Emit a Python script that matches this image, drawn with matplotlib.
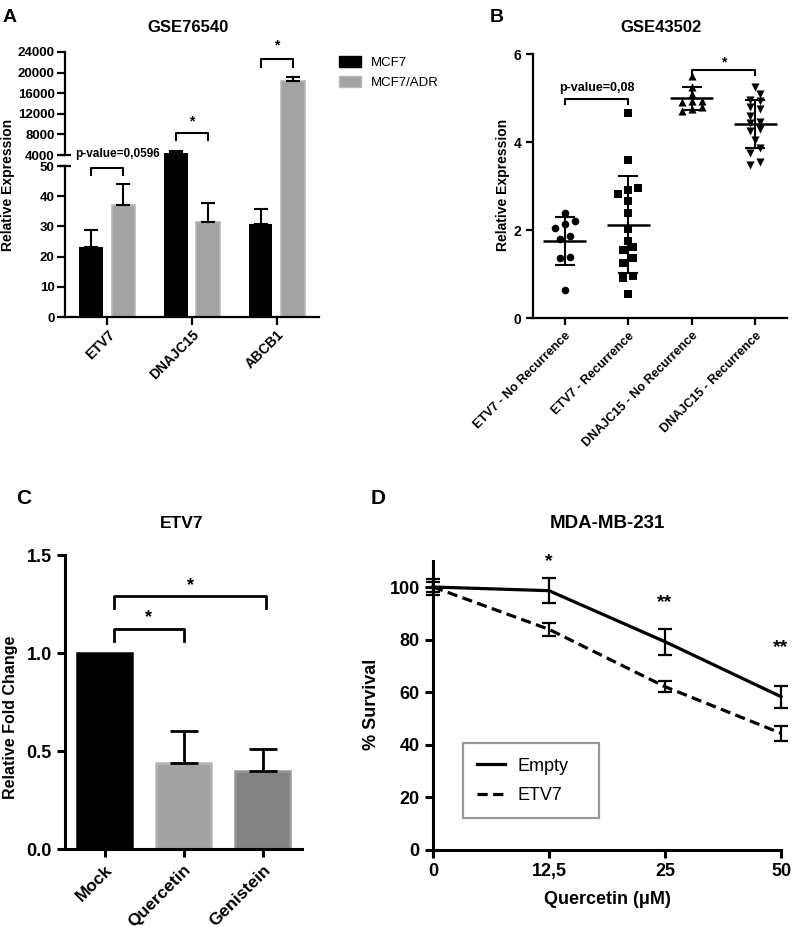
import numpy as np
import matplotlib
matplotlib.use("Agg")
import matplotlib.pyplot as plt
from matplotlib.patches import Patch
from matplotlib.lines import Line2D

plt.rcParams["font.family"] = ["Liberation Sans", "DejaVu Sans"]
plt.rcParams["font.weight"] = "bold"
plt.rcParams["axes.labelweight"] = "bold"

# ── DATA ──────────────────────────────────────────────────────────────────────
# A: GSE76540 (mean, upper SEM)
genes_a   = ["ETV7", "DNAJC15", "ABCB1"]
mcf7_mean = [23.3, 4450, 30.9]
mcf7_err  = [5.6, 330, 4.8]
adr_mean  = [37.0, 31.6, 18370]
adr_err   = [7.1, 6.3, 720]

# B: GSE43502 (individual samples)
groups_b = ["ETV7 - No Recurrence", "ETV7 - Recurrence",
            "DNAJC15 - No Recurrence", "DNAJC15 - Recurrence"]
etv7_norec = [2.38, 2.14, 2.20, 2.05, 1.80, 1.87, 1.39, 1.36, 0.64]
etv7_rec   = [4.67, 3.58, 2.95, 2.91, 2.66, 2.82, 2.38, 2.02, 1.62, 1.76,
              1.55, 1.36, 1.24, 0.95, 0.92, 0.55]
dnajc_norec = [5.50, 5.26, 5.10, 4.94, 4.92, 4.94, 4.79, 4.71, 4.75]
dnajc_rec   = [5.24, 5.08, 4.95, 4.94, 4.75, 4.79, 4.60, 4.30, 4.46, 4.44,
               4.25, 4.05, 3.86, 3.74, 3.55, 3.48]

# C: ETV7 fold change
treat_c  = ["Mock", "Quercetin", "Genistein"]
fold_c   = [1.0, 0.44, 0.40]
fold_err = [0.0, 0.16, 0.11]

# D: MDA-MB-231 survival
dose_labels = ["0", "12,5", "25", "50"]
empty_surv  = [100, 98.6, 79.2, 58.3]
empty_err   = [3.0, 4.7, 5.0, 4.2]
etv7_surv   = [100, 83.9, 62.1, 44.4]
etv7_err    = [2.0, 2.6, 2.2, 2.9]

# ── HELPERS ───────────────────────────────────────────────────────────────────
W, H = 799, 932
fig = plt.figure(figsize=(W / 100, H / 100), dpi=100)


def px_axes(left, top, right, bottom):
    return fig.add_axes([left / W, 1 - bottom / H, (right - left) / W, (bottom - top) / H])


def px_text(x, y, s, **kw):
    kw.setdefault("ha", "center")
    kw.setdefault("va", "center")
    fig.text(x / W, 1 - y / H, s, **kw)


def style(ax, lw, tlen):
    ax.spines[["top", "right"]].set_visible(False)
    for s in ("left", "bottom"):
        ax.spines[s].set_linewidth(lw)
    ax.tick_params(width=lw, length=tlen, direction="out")


def bracket(ax, x0, x1, y, tip, text, ty, fs, lw=1.5, tx=None):
    ax.plot([x0, x0, x1, x1], [tip, y, y, tip], color="black", lw=lw, clip_on=False)
    tx = (x0 + x1) / 2 if tx is None else tx
    ax.text(tx, ty, text, ha="center", va="center", fontsize=fs, clip_on=False)


def swarm(vals, step=0.16, tol=0.15):
    vals = np.asarray(vals)
    offs = np.zeros(len(vals))
    order = np.argsort(vals)

    def place(idx):
        for k, j in enumerate(idx):
            offs[j] = (k - (len(idx) - 1) / 2) * step

    cluster = [order[0]]
    for j in order[1:]:
        if vals[j] - vals[cluster[0]] <= tol + 1e-9:
            cluster.append(j)
        else:
            place(cluster)
            cluster = [j]
    place(cluster)
    return offs


# ── PANEL A ───────────────────────────────────────────────────────────────────
xa = np.arange(len(genes_a))
off, bw = 0.19, 0.28
gray_a = "#a3a3a3"
lo = px_axes(65, 155, 319, 317)
hi = px_axes(65, 52, 319, 155)
for ax in (lo, hi):
    ax.bar(xa - off, mcf7_mean, bw, color="black")
    ax.bar(xa + off, adr_mean, bw, color=gray_a, edgecolor="#b8b8b8", linewidth=1.2)
    ax.errorbar(xa - off, mcf7_mean, yerr=[np.zeros(3), mcf7_err], fmt="none",
                ecolor="black", elinewidth=1.5, capsize=5, capthick=1.5)
    ax.errorbar(xa + off, adr_mean, yerr=[np.zeros(3), adr_err], fmt="none",
                ecolor="black", elinewidth=1.5, capsize=5, capthick=1.5)
    ax.set_xlim(-0.5, 2.5)
    style(ax, 1.6, 5.5)
    ax.tick_params(labelsize=9.5, pad=2)

lo.set_ylim(0, 50 * (317 - 155) / (317 - 166))
lo.spines["left"].set_bounds(0, 50)
lo.set_yticks(range(0, 51, 10))
lo.set_xticks(xa)
lo.set_xticklabels(genes_a, rotation=45, ha="right", rotation_mode="anchor", fontsize=10)
lo.plot([-0.5], [50], marker="_", ms=9, mew=1.6, color="black", clip_on=False)

hi.set_ylim(4000, 24000)
hi.set_yticks(range(4000, 24001, 4000))
hi.spines["bottom"].set_visible(False)
hi.set_xticks([])
hi.patch.set_alpha(0)
hi.plot([-0.5], [4000], marker="_", ms=9, mew=1.6, color="black", clip_on=False)

bracket(lo, -off, off, 49.3, 47.0, "p-value=0,0596", 54.0, 8.5, tx=0.125)
bracket(hi, 1 - off, 1 + off, 8330, 6910, "*", 10600, 10)
bracket(hi, 2 - off, 2 + off, 22580, 21150, "*", 25200, 10)

fig.legend(handles=[Patch(color="black"), Patch(facecolor=gray_a, edgecolor="#b8b8b8")],
           labels=["MCF7", "MCF7/ADR"], loc="upper left",
           bbox_to_anchor=(339 / W, 1 - 56 / H), frameon=False, borderaxespad=0,
           prop={"weight": "normal", "size": 9.5}, handlelength=1.7, handleheight=0.95,
           labelspacing=0.5, handletextpad=0.7, borderpad=0)

px_text(10, 17, "A", fontsize=14)
px_text(188, 27, "GSE76540", fontsize=12)
px_text(8, 185, "Relative Expression", rotation=90, fontsize=10)

# ── PANEL B ───────────────────────────────────────────────────────────────────
b = px_axes(533, 54, 787, 318)
markers = ["o", "s", "^", "v"]
sizes = [30, 28, 34, 34]
for i, (vals, mk, sz) in enumerate(zip([etv7_norec, etv7_rec, dnajc_norec, dnajc_rec],
                                        markers, sizes)):
    pos = i + 1
    b.scatter(pos + swarm(vals), vals, marker=mk, s=sz, color="black", linewidths=0, zorder=3)
    m, sd = np.mean(vals), np.std(vals, ddof=1)
    b.hlines(m, pos - 0.34, pos + 0.34, color="black", lw=1.8, zorder=4)
    b.errorbar(pos, m, yerr=sd, fmt="none", ecolor="black", elinewidth=1.5,
               capsize=7, capthick=1.5, zorder=4)
b.set_xlim(0.5, 4.5)
b.set_ylim(0, 6)
b.set_yticks([0, 2, 4, 6])
b.set_xticks(range(1, 5))
b.set_xticklabels(groups_b, rotation=45, ha="right", rotation_mode="anchor", fontsize=9)
style(b, 1.6, 5)
b.tick_params(axis="y", labelsize=10)
bracket(b, 1, 2, 4.98, 4.86, "p-value=0,08", 5.22, 9)
bracket(b, 3, 4, 5.64, 5.52, "*", 5.8, 10)

px_text(497, 17, "B", fontsize=14)
px_text(661, 28, "GSE43502", fontsize=12)
px_text(503, 185, "Relative Expression", rotation=90, fontsize=10)

# ── PANEL C ───────────────────────────────────────────────────────────────────
c = px_axes(65, 555, 302, 849)
xc = np.arange(len(treat_c))
c.bar(xc, fold_c, 0.7, color=["black", "#a2a2a2", "#838383"],
      edgecolor=["black", "#b5b5b5", "#979797"], linewidth=1.8)
has_err = np.array(fold_err) > 0
c.errorbar(xc[has_err], np.array(fold_c)[has_err],
           yerr=[np.zeros(has_err.sum()), np.array(fold_err)[has_err]],
           fmt="none", ecolor="black", elinewidth=2, capsize=10, capthick=2)
c.set_xlim(-0.5, 2.5)
c.set_ylim(0, 1.5)
c.set_yticks([0, 0.5, 1.0, 1.5])
c.set_yticklabels(["0.0", "0.5", "1.0", "1.5"])
c.set_xticks(xc)
c.set_xticklabels(treat_c, rotation=45, ha="right", rotation_mode="anchor", fontsize=12.5)
style(c, 2.2, 6)
c.tick_params(axis="y", labelsize=13)
bracket(c, 0.12, 1.0, 1.12, 1.06, "*", 1.18, 13, lw=2)
bracket(c, 0.12, 2.05, 1.29, 1.23, "*", 1.345, 13, lw=2)

px_text(24, 498, "C", fontsize=15)
px_text(182, 524, "ETV7", fontsize=12.5)
px_text(11, 717, "Relative Fold Change", rotation=90, fontsize=11.5)

# ── PANEL D ───────────────────────────────────────────────────────────────────
d = px_axes(433, 560.7, 781, 850)
xd = np.arange(len(dose_labels))
dash = (0, (3.2, 1.7))
d.errorbar(xd, empty_surv, yerr=empty_err, color="black", lw=2.3, elinewidth=1.6,
           capsize=5, capthick=1.6, clip_on=False)
d.errorbar(xd, etv7_surv, yerr=etv7_err, color="black", lw=2.3, ls=dash,
           elinewidth=1.6, capsize=5, capthick=1.6, clip_on=False)
d.set_xlim(0, 3)
d.set_ylim(0, 110)
d.set_yticks(range(0, 101, 20))
d.set_xticks(xd)
d.set_xticklabels(dose_labels)
style(d, 2.2, 6)
d.tick_params(labelsize=13)
d.set_xlabel("Quercetin (\u03bcM)", fontsize=13, labelpad=8)
for xi, stars, ys in [(1, "*", 109.6), (2, "**", 94.0), (3, "**", 77.0)]:
    d.text(xi, ys, stars, ha="center", va="center", fontsize=14, clip_on=False)

handles = [Line2D([], [], color="black", lw=2.3),
           Line2D([], [], color="black", lw=2.3, ls=dash)]
leg = d.legend(handles, ["Empty", "ETV7"], loc="upper left", mode="expand",
               bbox_to_anchor=(0.085, 0.369, 0.393, 0.0), borderaxespad=0, fancybox=False,
               edgecolor="#808080", prop={"weight": "normal", "size": 13},
               handlelength=1.55, handletextpad=0.7, labelspacing=0.68, borderpad=0.8)
leg.get_frame().set_linewidth(1.6)

px_text(378, 498, "D", fontsize=15)
px_text(607, 523, "MDA-MB-231", fontsize=13.5)
px_text(372, 704, "% Survival", rotation=90, fontsize=13)

fig.savefig("out.png", dpi=100)
